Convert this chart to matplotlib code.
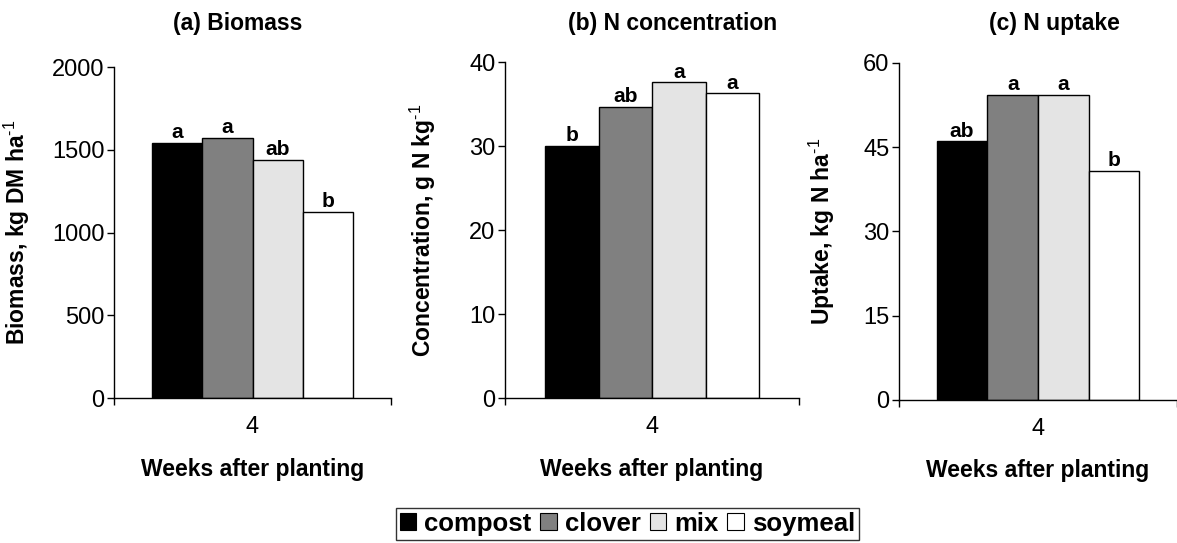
import numpy as np
import matplotlib.pyplot as plt
from matplotlib.patches import Patch

plt.rcParams['font.family'] = ['Liberation Sans', 'DejaVu Sans']
plt.rcParams['mathtext.fontset'] = 'custom'
plt.rcParams['mathtext.rm'] = 'Liberation Sans'
plt.rcParams['mathtext.bf'] = 'Liberation Sans:bold'

treatments = ['compost', 'clover', 'mix', 'soymeal']
colors = ['#000000', '#808080', '#e4e4e4', '#ffffff']

biomass = [1543, 1569, 1436, 1122]
biomass_letters = ['a', 'a', 'ab', 'b']

n_conc = [30.0, 34.7, 37.6, 36.3]
n_conc_letters = ['b', 'ab', 'a', 'a']

n_uptake = [46.0, 54.3, 54.2, 40.8]
n_uptake_letters = ['ab', 'a', 'a', 'b']

week = '4'

# superscript "-1" kept as a plain hyphen
sup = r'$^{\text{-1}}$'

panels = [
    dict(vals=biomass, letters=biomass_letters, ymax=2000, step=500,
         ylabel='Biomass, kg DM ha' + sup, title='(a) Biomass',
         rect=[0.0969, 0.267, 0.2353, 0.6096], ylab_x=-0.296, title_x=0.2018),
    dict(vals=n_conc, letters=n_conc_letters, ymax=40, step=10,
         ylabel='Concentration, g N kg' + sup, title='(b) N concentration',
         rect=[0.4293, 0.2665, 0.2495, 0.6188], ylab_x=-0.229, title_x=0.5718),
    dict(vals=n_uptake, letters=n_uptake_letters, ymax=60, step=15,
         ylabel='Uptake, kg N ha' + sup, title='(c) N uptake',
         rect=[0.7638, 0.2634, 0.2362, 0.6211], ylab_x=-0.224, title_x=0.8959),
]

fig = plt.figure(figsize=(11.77, 5.43), dpi=100)

w = 0.182
xs = 0.5 + (np.arange(4) - 1.5) * w

for p in panels:
    ax = fig.add_axes(p['rect'])
    ax.bar(xs, p['vals'], width=w, color=colors, edgecolor='black', linewidth=1)
    for x, v, lab in zip(xs, p['vals'], p['letters']):
        ax.annotate(lab, (x, v), xytext=(0, 3.5), textcoords='offset points',
                    ha='center', va='baseline', fontsize=15, fontweight='bold')
    ax.set_xlim(0, 1)
    ax.set_ylim(0, p['ymax'])
    ax.set_yticks(np.arange(0, p['ymax'] + 1, p['step']))
    ax.set_xticks([0, 1])
    ax.set_xticklabels(['', ''])
    ax.set_xticks([0.5], minor=True)
    ax.set_xticklabels([week], minor=True)
    ax.tick_params(axis='x', which='major', direction='out', length=5, width=1)
    ax.tick_params(axis='x', which='minor', length=0, pad=13, labelsize=17)
    ax.tick_params(axis='y', direction='out', length=5, width=1, labelsize=17, pad=2)
    for s in ['top', 'right']:
        ax.spines[s].set_visible(False)
    for s in ['left', 'bottom']:
        ax.spines[s].set_linewidth(1)
    ax.set_xlabel('Weeks after planting', fontsize=16.5, fontweight='bold', labelpad=14)
    ax.set_ylabel(p['ylabel'], fontsize=16.5, fontweight='bold')
    ax.yaxis.set_label_coords(p['ylab_x'], 0.5)
    fig.text(p['title_x'], 0.9576, p['title'], ha='center', va='center',
             fontsize=16.5, fontweight='bold')

handles = [Patch(facecolor=c, edgecolor='black', linewidth=0.8) for c in colors]
leg = fig.legend(handles, treatments, loc='upper center', bbox_to_anchor=(0.533, 0.0645),
                 ncol=4, frameon=True, fancybox=False, edgecolor='black',
                 prop={'weight': 'bold', 'size': 18.5}, handlelength=0.65,
                 handleheight=0.65, handletextpad=0.3, columnspacing=0.35,
                 borderpad=0.15, borderaxespad=0)
leg.get_frame().set_linewidth(1)

fig.savefig('out.png', dpi=100)
